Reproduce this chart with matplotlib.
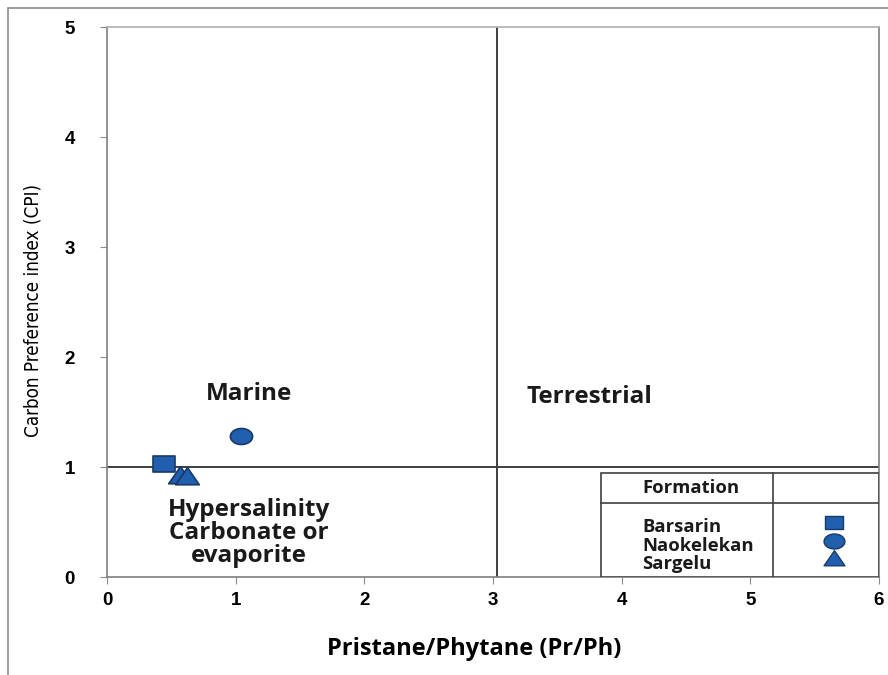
import numpy as np
import matplotlib
matplotlib.use('Agg')
from matplotlib import pyplot as plt
from matplotlib.path import Path
from matplotlib.patches import Rectangle

# Pr/Ph vs CPI for each formation
formations = ['Barsarin', 'Naokelekan', 'Sargelu', 'Sargelu']
pr_ph = [0.44, 1.04, 0.57, 0.62]
cpi = [1.03, 1.28, 0.93, 0.92]
shapes = ['square', 'circle', 'triangle', 'triangle']

x_ticks = [0, 1, 2, 3, 4, 5, 6]
y_ticks = [0, 1, 2, 3, 4, 5]
legend_names = ['Barsarin', 'Naokelekan', 'Sargelu']

FILL = '#1f5fad'
EDGE = '#183a68'


def stretched(path_verts, sx=1.0, sy=1.0, codes=None):
    v = np.asarray(path_verts, dtype=float) * [sx, sy]
    return Path(v, codes)


t = np.linspace(0, 2 * np.pi, 60)
MARKERS = {
    'square': stretched([[-1, -1], [1, -1], [1, 1], [-1, 1], [-1, -1]], 1.0, 0.72,
                        [Path.MOVETO, Path.LINETO, Path.LINETO, Path.LINETO, Path.CLOSEPOLY]),
    'circle': stretched(np.c_[np.cos(t), np.sin(t)], 1.0, 0.72),
    'triangle': stretched([[-1, -0.7], [1, -0.7], [0, 0.75], [-1, -0.7]], 1.0, 1.0,
                          [Path.MOVETO, Path.LINETO, Path.LINETO, Path.CLOSEPOLY]),
}

fig = plt.figure(figsize=(8.88, 6.75), dpi=100)
ax = fig.add_axes([107 / 888, 1 - 577 / 675, (879 - 107) / 888, (577 - 27) / 675])

# outer frame of the chart
fig.patches.append(Rectangle((8 / 888, -0.1), 1.2, 1.1 - 8 / 675,
                             transform=fig.transFigure, fill=False,
                             edgecolor='#8c8c8c', linewidth=1.2, zorder=0))

ax.set_xlim(0, 6)
ax.set_ylim(0, 5)
ax.set_xticks(x_ticks)
ax.set_yticks(y_ticks)
ax.set_xticklabels([str(v) for v in x_ticks], fontfamily='Liberation Sans',
                   fontweight='bold', fontsize=13.5)
ax.set_yticklabels([str(v) for v in y_ticks], fontfamily='Liberation Sans',
                   fontweight='bold', fontsize=13.5)
ax.tick_params(axis='both', direction='out', length=5, width=0.8, color='#8c8c8c')
ax.tick_params(axis='x', pad=6)
ax.tick_params(axis='y', pad=18)
for side in ['left', 'bottom', 'right']:
    ax.spines[side].set_color('#7f7f7f')
    ax.spines[side].set_linewidth(1.2)
ax.spines['top'].set_color('#b0b0b0')
ax.spines['top'].set_linewidth(1.2)

ax.set_xlabel('Pristane/Phytane (Pr/Ph)', fontfamily='Open Sans', fontweight='bold',
              fontsize=17)
ax.xaxis.set_label_coords(0.475, -0.109)
ax.set_ylabel('Carbon Preference index (CPI)', fontfamily='DejaVu Sans',
              fontstretch='condensed', fontsize=13.5)
ax.yaxis.set_label_coords(-0.083, 0.485)

# boundary lines
ax.axvline(3.03, color='#3f3f3f', linewidth=1.4, zorder=2)
ax.axhline(1.0, color='#3f3f3f', linewidth=1.4, zorder=2)

for x, y, s in zip(pr_ph, cpi, shapes):
    size = 17 if s == 'triangle' else 16
    ax.plot(x, y, linestyle='none', marker=MARKERS[s], markersize=size,
            markerfacecolor=FILL, markeredgecolor=EDGE, markeredgewidth=1.2, zorder=4)

label_font = dict(fontfamily='Open Sans', fontweight='bold', fontsize=17.5, color='#1a1a1a')
ax.text(1.10, 1.66, 'Marine', ha='center', va='center', **label_font)
ax.text(3.75, 1.64, 'Terrestrial', ha='center', va='center', **label_font)
ax.text(1.10, 0.40, 'Hypersalinity\nCarbonate or\nevaporite', ha='center', va='center',
        linespacing=0.97, **label_font)

# formation key table
tbl_left, tbl_mid, tbl_right = 3.84, 5.18, 6.0
tbl_top, tbl_head = 0.945, 0.67
ax.add_patch(Rectangle((tbl_left, 0), tbl_right - tbl_left, tbl_top, facecolor='white',
                       edgecolor='#3f3f3f', linewidth=1.2, zorder=5))
ax.plot([tbl_mid, tbl_mid], [0, tbl_top], color='#3f3f3f', linewidth=1.2, zorder=6)
ax.plot([tbl_left, tbl_right], [tbl_head, tbl_head], color='#3f3f3f', linewidth=1.2, zorder=6)
key_font = dict(fontfamily='Open Sans', fontweight='bold', fontsize=13.3, color='#1a1a1a', zorder=7)
ax.text(4.54, (tbl_top + tbl_head) / 2, 'Formation',
        ha='center', va='center', **key_font)
key_y = [0.455, 0.28, 0.12]
key_marker_y = [0.50, 0.33, 0.17]
for name, ty, my, s in zip(legend_names, key_y, key_marker_y, ['square', 'circle', 'triangle']):
    ax.text(4.16, ty, name, ha='left', va='center', linespacing=1.0, **key_font)
    ax.plot(5.65, my, linestyle='none', marker=MARKERS[s], markersize=15 if s != 'square' else 13,
            markerfacecolor=FILL, markeredgecolor=EDGE, markeredgewidth=1.0, zorder=7)

fig.savefig('out.png', dpi=100)
